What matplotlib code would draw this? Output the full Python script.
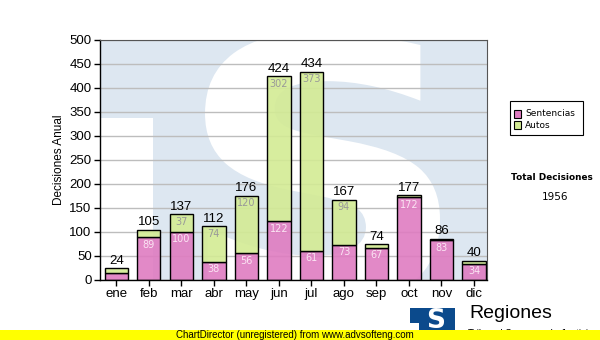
import matplotlib
matplotlib.use('Agg')
import matplotlib.pyplot as plt
import numpy as np
from matplotlib.colors import to_rgba
from matplotlib.font_manager import FontProperties
from matplotlib.patches import PathPatch, Rectangle
from matplotlib.textpath import TextPath
from matplotlib.transforms import Affine2D

meses = ['ene', 'feb', 'mar', 'abr', 'may', 'jun', 'jul', 'ago', 'sep', 'oct', 'nov', 'dic']
sentencias = [15, 89, 100, 38, 56, 122, 61, 73, 67, 172, 83, 34]
autos = [9, 16, 37, 74, 120, 302, 373, 94, 7, 5, 3, 6]
series = ['Sentencias', 'Autos']

ROSA = '#df7cc1'
VERDE = '#d3eb94'
AZUL_CLARO = '#dde7f1'
AZUL_LOGO = '#0b4a8c'
ARIAL = 'Liberation Sans'

W, H = 600, 340
fig = plt.figure(figsize=(W / 100, H / 100), dpi=100)


def fx(px):
    return px / W


def fy(py):
    return 1 - py / H


ax = fig.add_axes([fx(100), fy(280), fx(387), 240 / H])
ax.set_facecolor(AZUL_CLARO)

# marca de agua: bloque blanco a la izquierda y una gran "S" blanca
ax.add_patch(Rectangle((0, 0), 0.137, 0.675, transform=ax.transAxes,
                       facecolor='white', edgecolor='none', zorder=0.1))
tp = TextPath((0, 0), 'S', size=1, prop=FontProperties(family='DejaVu Sans', weight='bold'))
ext = tp.get_extents()
x0, x1 = (205 - 100) / 387, (440 - 100) / 387
y0, y1 = (280 - 305) / 240, (280 - 32) / 240
tr = (Affine2D().translate(-ext.x0, -ext.y0)
      .scale((x1 - x0) / ext.width, (y1 - y0) / ext.height)
      .translate(x0, y0)) + ax.transAxes
ax.add_patch(PathPatch(tp, transform=tr, facecolor='white', edgecolor='none', zorder=0.2))

x = np.arange(len(meses))
totales = [s + a for s, a in zip(sentencias, autos)]
ax.bar(x, sentencias, width=0.72, color=to_rgba(ROSA, 0.9), edgecolor='black',
       linewidth=1, zorder=2)
ax.bar(x, autos, width=0.72, bottom=sentencias, color=to_rgba(VERDE, 0.9),
       edgecolor='black', linewidth=1, zorder=2)

for i, (s, a, t) in enumerate(zip(sentencias, autos, totales)):
    ax.text(i, t + 3, str(t), ha='center', va='bottom', fontsize=9.5,
            family=ARIAL, color='black', zorder=3)
    if s >= 20:
        ax.text(i, s - 5, str(s), ha='center', va='top', fontsize=7,
                color='#fbe4f3', zorder=3)
    if a >= 20:
        ax.text(i, t - 5, str(a), ha='center', va='top', fontsize=7,
                color='#999999', zorder=3)

ax.set_xlim(-0.5, 11.4)
ax.set_ylim(0, 500)
ax.set_yticks(range(0, 501, 50))
ax.set_xticks(x)
ax.set_xticklabels(meses)
ax.tick_params(axis='both', length=4, width=1, direction='out', labelsize=9.5, pad=2)
for lab in ax.get_xticklabels() + ax.get_yticklabels():
    lab.set_family(ARIAL)
ax.set_axisbelow(True)
ax.grid(axis='y', color='#bdbdbd', linewidth=1, zorder=0.5)
ax.set_ylabel('Decisiones Anual', fontsize=8.5, family=ARIAL, labelpad=3)
for lado in ['left', 'bottom']:
    ax.spines[lado].set_color('black')
    ax.spines[lado].set_linewidth(1)
for lado in ['top', 'right']:
    ax.spines[lado].set_color('#555555')
    ax.spines[lado].set_linewidth(0.8)

# leyenda
fig.patches.append(Rectangle((fx(510), fy(135)), fx(73), 34 / H, transform=fig.transFigure,
                             facecolor='white', edgecolor='black', linewidth=0.8))
for k, (nombre, col) in enumerate(zip(series, [ROSA, VERDE])):
    yc = 114 + k * 11
    fig.patches.append(Rectangle((fx(514), fy(yc + 3.5)), fx(7), 7 / H,
                                 transform=fig.transFigure, facecolor=col,
                                 edgecolor='black', linewidth=0.8))
    fig.text(fx(525), fy(yc), nombre, fontsize=6.5, va='center', ha='left')

fig.text(fx(552), fy(177), 'Total Decisiones', fontsize=6.4, weight='bold',
         ha='center', va='center')
fig.text(fx(555), fy(197), str(sum(totales)), fontsize=7.5, ha='center', va='center')

# logotipo inferior
fig.patches.append(Rectangle((fx(410), fy(336)), fx(45), 28 / H, transform=fig.transFigure,
                             facecolor=AZUL_LOGO, edgecolor='none'))
fig.patches.append(Rectangle((fx(410), fy(336)), fx(9), 13 / H, transform=fig.transFigure,
                             facecolor='white', edgecolor='none'))
fig.text(fx(436), fy(321), 'S', fontsize=19, weight='bold', color='white',
         ha='center', va='center')
fig.text(fx(469), fy(314), 'Regiones', fontsize=14, family=ARIAL, ha='left', va='center')
fig.text(fx(468), fy(334), 'Tribunal Supremo de Justicia', fontsize=7, family=ARIAL,
         ha='left', va='center')

# franja amarilla
fig.patches.append(Rectangle((0, 0), 1, 10 / H, transform=fig.transFigure,
                             facecolor='#ffff00', edgecolor='none', zorder=10))
fig.text(fx(295), fy(335), 'ChartDirector (unregistered) from www.advsofteng.com',
         fontsize=7, family=ARIAL, ha='center', va='center', zorder=11)

fig.savefig('out.png', dpi=100)
